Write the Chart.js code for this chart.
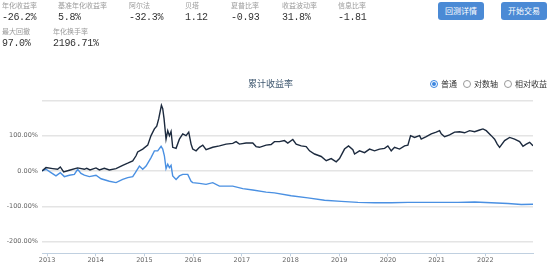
<!DOCTYPE html>
<html>
<head>
<meta charset="utf-8">
<script src="https://cdn.jsdelivr.net/npm/chart.js@4/dist/chart.umd.min.js"></script>
<style>
    body { margin: 0; width: 550px; height: 266px; position: relative; background: #fff; overflow: hidden; font-family: "Noto Sans CJK SC", "Noto Sans", sans-serif; }
    #grafico { position: absolute; left: 0; top: 0; }
    .stat { position: absolute; }
    .stat .rot { font-size: 7px; color: #9a9a9a; line-height: 9px; }
    .stat .val { font-family: "Liberation Mono", monospace; font-size: 10px; color: #333; line-height: 12px; letter-spacing: -0.3px; margin-top: 2px; }
    .btn { position: absolute; top: 2px; width: 46px; height: 18px; background: #4b8ad5; border-radius: 3px; color: #fff; font-size: 8px; line-height: 18px; text-align: center; }
    #titulo { position: absolute; left: 0; width: 541px; top: 78px; text-align: center; font-size: 9px; color: #3E576F; line-height: 12px; }
    .radio { position: absolute; top: 79px; font-size: 8px; color: #333; line-height: 10px; }
    .radio i { display: inline-block; width: 6px; height: 6px; border: 1px solid #999; border-radius: 50%; vertical-align: -1px; margin-right: 3px; box-sizing: content-box; position: relative; }
    .radio i.on { border-color: #3b86e0; }
    .radio i.on::after { content: ""; position: absolute; left: 1px; top: 1px; width: 4px; height: 4px; border-radius: 50%; background: #3b86e0; }
</style>
</head>
<body>
<canvas id="grafico" width="550" height="266"></canvas>

<div class="stat" style="left:2px;top:1px"><div class="rot">年化收益率</div><div class="val">-26.2%</div></div>
<div class="stat" style="left:58px;top:1px"><div class="rot">基准年化收益率</div><div class="val">5.8%</div></div>
<div class="stat" style="left:129px;top:1px"><div class="rot">阿尔法</div><div class="val">-32.3%</div></div>
<div class="stat" style="left:185px;top:1px"><div class="rot">贝塔</div><div class="val">1.12</div></div>
<div class="stat" style="left:231px;top:1px"><div class="rot">夏普比率</div><div class="val">-0.93</div></div>
<div class="stat" style="left:282px;top:1px"><div class="rot">收益波动率</div><div class="val">31.8%</div></div>
<div class="stat" style="left:338px;top:1px"><div class="rot">信息比率</div><div class="val">-1.81</div></div>
<div class="stat" style="left:2px;top:27px"><div class="rot">最大回撤</div><div class="val">97.0%</div></div>
<div class="stat" style="left:53px;top:27px"><div class="rot">年化换手率</div><div class="val">2196.71%</div></div>

<div class="btn" style="left:438px">回测详情</div>
<div class="btn" style="left:501px">开始交易</div>

<div id="titulo">累计收益率</div>
<div class="radio" style="left:430px"><i class="on"></i>普通</div>
<div class="radio" style="left:463px"><i></i>对数轴</div>
<div class="radio" style="left:504px"><i></i>相对收益</div>

<script>
/* DADOS */
const anosBench = [2012.897, 2012.979, 2013.116, 2013.218, 2013.273, 2013.342, 2013.458, 2013.629, 2013.766, 2013.814,
    2013.883, 2014.006, 2014.075, 2014.177, 2014.280, 2014.417, 2014.554, 2014.657, 2014.760, 2014.828,
    2014.862, 2014.965, 2015.068, 2015.136, 2015.205, 2015.253, 2015.294, 2015.349, 2015.376, 2015.403,
    2015.444, 2015.479, 2015.513, 2015.547, 2015.581, 2015.650, 2015.718, 2015.787, 2015.855, 2015.910,
    2015.958, 2015.992, 2016.061, 2016.130, 2016.198, 2016.266, 2016.403, 2016.540, 2016.677, 2016.814,
    2016.882, 2016.951, 2017.088, 2017.225, 2017.293, 2017.362, 2017.499, 2017.601, 2017.670, 2017.773,
    2017.875, 2017.944, 2018.047, 2018.116, 2018.219, 2018.322, 2018.390, 2018.493, 2018.630, 2018.733,
    2018.835, 2018.938, 2019.006, 2019.109, 2019.191, 2019.280, 2019.315, 2019.417, 2019.520, 2019.623,
    2019.725, 2019.828, 2019.931, 2019.999, 2020.068, 2020.136, 2020.239, 2020.342, 2020.410, 2020.465,
    2020.547, 2020.650, 2020.684, 2020.787, 2020.890, 2020.992, 2021.061, 2021.095, 2021.164, 2021.266,
    2021.369, 2021.472, 2021.574, 2021.677, 2021.780, 2021.883, 2021.951, 2022.019, 2022.122, 2022.191,
    2022.245, 2022.293, 2022.396, 2022.499, 2022.601, 2022.704, 2022.773, 2022.841, 2022.910, 2022.979];
const valoresBench = [0, 9.5, 6.7, 4.8, 11.4, -2.9, 2, 8.6, 4.8, 7.6,
    2.9, 8.6, 2.9, 7.6, 2.9, 6.7, 16, 22, 28.6, 43,
    54, 62, 73, 100, 119, 127, 148, 186, 176, 148,
    90, 114, 100, 112, 67, 64, 90, 105, 100, 110,
    76, 62, 57, 67, 73, 60, 67, 71, 76, 78,
    83, 76, 79, 79, 69, 67, 73, 75, 83, 83,
    86, 79, 89, 76, 71, 69, 57, 48, 41, 29,
    35, 26, 35, 62, 71, 60, 48, 57, 52, 62,
    57, 62, 64, 71, 57, 67, 62, 71, 73, 100,
    95, 100, 90, 97, 105, 110, 114, 105, 97, 102,
    110, 111, 108, 114, 111, 116, 119, 114, 100, 90,
    76, 67, 86, 95, 90, 83, 70, 76, 81, 71];

const anosEstrategia = [2012.897, 2012.979, 2013.082, 2013.184, 2013.273, 2013.356, 2013.458, 2013.561, 2013.629, 2013.697,
    2013.766, 2013.869, 2014.006, 2014.109, 2014.280, 2014.417, 2014.554, 2014.657, 2014.760, 2014.814,
    2014.897, 2014.965, 2015.034, 2015.136, 2015.205, 2015.273, 2015.342, 2015.376, 2015.410, 2015.444,
    2015.479, 2015.513, 2015.547, 2015.581, 2015.650, 2015.718, 2015.787, 2015.890, 2015.958, 2015.992,
    2016.130, 2016.266, 2016.403, 2016.540, 2016.814, 2017.020, 2017.225, 2017.499, 2017.670, 2018.013,
    2018.356, 2018.698, 2019.041, 2019.383, 2019.725, 2020.068, 2020.410, 2020.753, 2021.095, 2021.438,
    2021.780, 2022.122, 2022.465, 2022.739, 2022.979];
const valoresEstrategia = [0, 4.8, -4.8, -14, -4.8, -16, -12, -9.5, 4.8, -6.7,
    -12, -16, -12, -22, -29, -33, -24, -19, -16, -4.8,
    14, 4.8, 14, 38, 57, 57, 70, 62, 43, 6.7,
    19, 9.5, 16, -14, -24, -14, -9.5, -9.5, -29, -33,
    -35, -38, -33, -43, -43, -50, -54, -60, -62, -70,
    -76, -83, -86, -89, -90, -90, -89, -89, -89, -89,
    -88, -90, -92, -95, -94];

const ticksAnos = [2013, 2014, 2015, 2016, 2017, 2018, 2019, 2020, 2021, 2022];
const ticksY = [-200, -100, 0, 100, 200];

const pontos = (xs, ys) => xs.map((x, i) => ({ x: x, y: ys[i] }));

/* GRAFICO - RETORNO ACUMULADO */
new Chart(document.getElementById("grafico"), {
    type: "line",
    data: {
        datasets: [{
            label: "基准",
            data: pontos(anosBench, valoresBench),
            borderColor: "#1c2a3e",
            borderWidth: 1.4,
            pointRadius: 0,
            fill: false
        }, {
            label: "策略",
            data: pontos(anosEstrategia, valoresEstrategia),
            borderColor: "#4a90e2",
            borderWidth: 1.4,
            pointRadius: 0,
            fill: false
        }]
    },
    options: {
        responsive: false,
        animation: false,
        layout: { padding: { top: 100.3, right: 17, left: 0, bottom: 0 } },
        plugins: { legend: { display: false }, tooltip: { enabled: false } },
        scales: {
            x: {
                type: "linear",
                min: 2012.897,
                max: 2022.979,
                afterBuildTicks: s => { s.ticks = ticksAnos.map(v => ({ value: v })); },
                afterFit: s => { s.height = 12.7; },
                ticks: {
                    callback: v => String(v),
                    font: { family: "DejaVu Sans", size: 6.5 },
                    color: "#666",
                    padding: 0,
                    maxRotation: 0
                },
                grid: { drawOnChartArea: false, drawTicks: true, tickLength: 3, color: "#C0D0E0" },
                border: { color: "#C0D0E0", width: 1 }
            },
            y: {
                min: -233,
                max: 200,
                afterBuildTicks: s => { s.ticks = ticksY.map(v => ({ value: v })); },
                afterFit: s => { s.width = 42; },
                ticks: {
                    callback: v => v === 200 ? "" : v.toFixed(2) + "%",
                    font: { family: "DejaVu Sans", size: 6.5 },
                    color: "#666",
                    padding: 4
                },
                grid: { color: "#e4e4e4", lineWidth: 1.5, drawTicks: false },
                border: { display: false }
            }
        }
    }
});
</script>
</body>
</html>
